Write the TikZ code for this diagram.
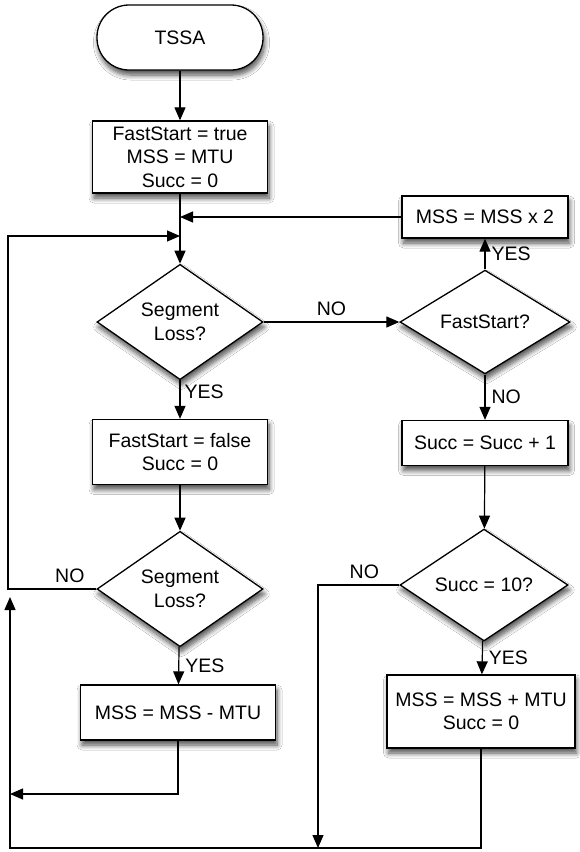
\documentclass[tikz,border=0pt]{standalone}
\usepackage{fontspec}
\setmainfont{Liberation Sans}
\usetikzlibrary{arrows.meta,shapes.geometric,shadows.blur}
\tikzset{
  base/.style={draw=black, fill=white, line width=1.3pt, align=center, inner sep=1pt,
    font=\fontsize{19.5}{23.5}\selectfont,
    blur shadow={shadow xshift=1.5pt, shadow yshift=-5pt, shadow blur radius=5pt, shadow blur steps=8, shadow opacity=70}},
  procbox/.style={base, rectangle},
  term/.style={base, rectangle, rounded corners=32pt},
  decision/.style={base, diamond, inner sep=0pt},
  arr/.style={-{Triangle[length=13pt,width=11pt]}, line width=1.2pt},
  lbl/.style={font=\fontsize{19.5}{23.5}\selectfont, inner sep=2pt}
}
\begin{document}
\begin{tikzpicture}[x=1pt,y=-1pt]
\useasboundingbox (0,0) rectangle (579,852);
\fill[white] (0,0) rectangle (579,852);

\node[term, minimum width=166pt, minimum height=65pt] (start) at (180,37.5) {TSSA};
\node[procbox, minimum width=175pt, minimum height=72pt] (init) at (180,157) {FastStart = true\\MSS = MTU\\Succ = 0};
\node[procbox, minimum width=166pt, minimum height=42pt] (mss2) at (485,217) {MSS = MSS x 2};
\node[decision, minimum width=166pt, minimum height=95pt] (d1) at (180,322) {Segment\\Loss?};
\node[decision, minimum width=170pt, minimum height=95pt] (fs) at (485,322) {FastStart?};
\node[procbox, minimum width=175pt, minimum height=65pt] (ff) at (180,452) {FastStart = false\\Succ = 0};
\node[procbox, minimum width=166pt, minimum height=45pt] (succ1) at (485,443) {Succ = Succ + 1};
\node[decision, minimum width=166pt, minimum height=98pt] (d2) at (180,589) {Segment\\Loss?};
\node[decision, minimum width=168pt, minimum height=90pt] (s10) at (484,585) {Succ = 10?};
\node[procbox, minimum width=195pt, minimum height=55pt] (mssm) at (178,712.5) {MSS = MSS - MTU};
\node[procbox, minimum width=188pt, minimum height=73pt] (mssp) at (481,711.5) {MSS = MSS + MTU\\Succ = 0};

\coordinate (j2) at (180,236);
\coordinate (lx) at (8,0);
\coordinate (nx) at (318,0);
\coordinate (by) at (0,848);
\coordinate (upend) at (10,597);
\coordinate (ly) at (10,794);

\draw[arr] (start) -- (init);
\draw[arr] (init) -- (d1);
\draw[arr] (mss2) -- (init.south |- mss2.west);
\draw[arr] (d2.west) -- node[lbl, above=4pt, pos=0.3]{NO} (d2.west -| lx) |- (j2);
\draw[arr] (d1) -- node[lbl, above=4pt]{NO} (fs);
\draw[arr] (fs) -- node[lbl, right=4pt]{YES} (mss2);
\draw[arr] (fs) -- node[lbl, right=4pt]{NO} (succ1);
\draw[arr] (succ1) -- (s10);
\draw[arr] (d1) -- node[lbl, right=2pt, pos=0.3]{YES} (ff);
\draw[arr] (ff) -- (d2);
\draw[arr] (d2) -- node[lbl, right=4pt]{YES} (mssm);
\draw[arr] (s10) -- node[lbl, right=4pt]{YES} (mssp);
\draw[arr] (s10.west) -- node[lbl, above=4pt, pos=0.43]{NO} (s10.west -| nx) -- (nx |- by);
\draw[arr] (mssp) -- (mssp.south |- by) -| (upend);
\draw[arr] (mssm) -- (mssm.south |- ly) -- (ly);
\end{tikzpicture}
\end{document}
